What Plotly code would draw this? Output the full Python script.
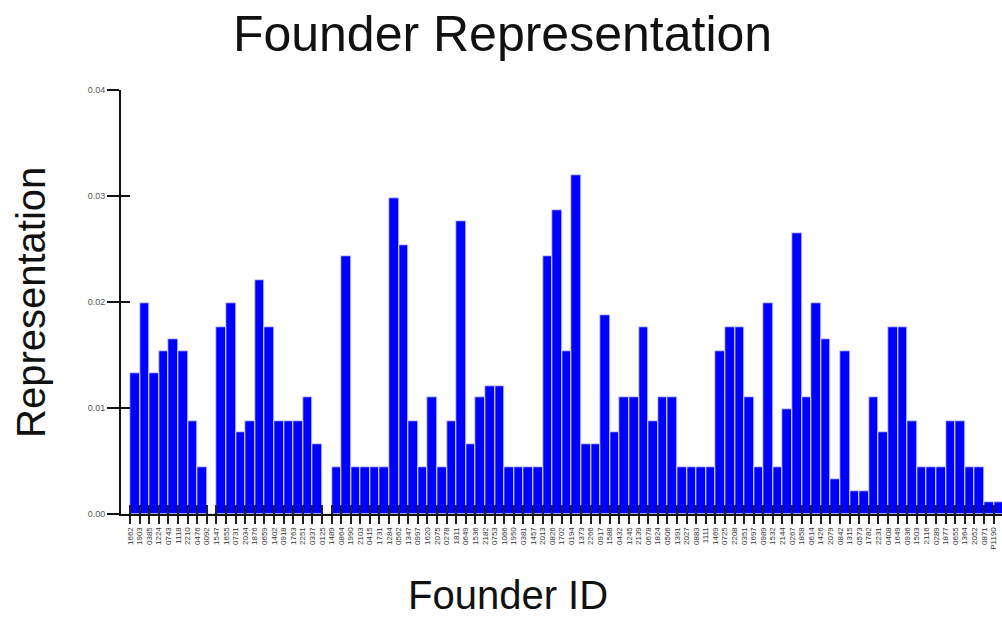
import plotly.graph_objects as go

# ---- data ----
founder_ids = [
    "1662", "1903", "0385", "1224", "0743", "1118", "2210", "0476", "0092", "1547",
    "1655", "0731", "2034", "1876", "0659", "1402", "0918", "1763", "2251", "0337",
    "0125", "1489", "0864", "1990", "2103", "0415", "1731", "1284", "0562", "1347",
    "0997", "1620", "2075", "0278", "1811", "0649", "1536", "2182", "0753", "1066",
    "1950", "0381", "1457", "2013", "0826", "1702", "0194", "1373", "2266", "0917",
    "1588", "0432", "1245", "2139", "0678", "1824", "0506", "1391", "2027", "0883",
    "1111", "1469", "0725", "2208", "0351", "1697", "0989", "1532", "2144", "0267",
    "1858", "0614", "1426", "2079", "0842", "1315", "0573", "1782", "2231", "0408",
    "1649", "0936", "1503", "2116", "0289", "1877", "0655", "1364", "2052", "0871",
    "P1190",
]

representation = [
    0.0133, 0.0199, 0.0133, 0.0154, 0.0165, 0.0154, 0.0088, 0.0044, 0.0000, 0.0176,
    0.0199, 0.0077, 0.0088, 0.0221, 0.0176, 0.0088, 0.0088, 0.0088, 0.0110, 0.0066,
    0.0000, 0.0044, 0.0243, 0.0044, 0.0044, 0.0044, 0.0044, 0.0298, 0.0254, 0.0088,
    0.0044, 0.0110, 0.0044, 0.0088, 0.0276, 0.0066, 0.0110, 0.0121, 0.0121, 0.0044,
    0.0044, 0.0044, 0.0044, 0.0243, 0.0287, 0.0154, 0.0320, 0.0066, 0.0066, 0.0188,
    0.0077, 0.0110, 0.0110, 0.0176, 0.0088, 0.0110, 0.0110, 0.0044, 0.0044, 0.0044,
    0.0044, 0.0154, 0.0176, 0.0176, 0.0110, 0.0044, 0.0199, 0.0044, 0.0099, 0.0265,
    0.0110, 0.0199, 0.0165, 0.0033, 0.0154, 0.0022, 0.0022, 0.0110, 0.0077, 0.0176,
    0.0176, 0.0088, 0.0044, 0.0044, 0.0044, 0.0088, 0.0088, 0.0044, 0.0044, 0.0011,
    0.0011,
]

y_ticks = [0.0, 0.01, 0.02, 0.03, 0.04]
y_tick_text = ["0.00", "0.01", "0.02", "0.03", "0.04"]

positions = list(range(len(founder_ids)))

FONT = "Liberation Sans, Arial, sans-serif"

fig = go.Figure()
fig.add_trace(go.Bar(
    x=positions, y=representation, offset=0, width=1,
    marker=dict(color="#0000ff", line=dict(color="#c8c8ff", width=0.5)),
    hoverinfo="x+y", showlegend=False,
))
# invisible companion trace to carry the inner half of the crossing ticks
fig.add_trace(go.Bar(
    x=positions, y=representation, offset=0, width=1,
    xaxis="x2", yaxis="y2", marker=dict(color="rgba(0,0,0,0)"),
    hoverinfo="skip", showlegend=False,
))

x_range = [-0.94, 90.88]

fig.update_layout(
    width=1002, height=619,
    paper_bgcolor="white", plot_bgcolor="white",
    margin=dict(l=121, r=0, t=90, b=105, autoexpand=False),
    bargap=0,
    barmode="overlay",
    font=dict(family=FONT, color="#111111"),
    title=dict(text="Founder Representation", x=0.5015, xref="container", xanchor="center",
               y=1 - 33 / 619, yref="container", yanchor="middle",
               font=dict(size=50, family=FONT, color="#111111")),
    xaxis=dict(
        range=x_range, showgrid=False, zeroline=False,
        showline=True, linecolor="#111111", linewidth=2,
        tickmode="array", tickvals=positions, ticktext=founder_ids,
        ticks="outside", ticklen=8, tickwidth=2, tickcolor="#222222",
        tickangle=-90, tickfont=dict(size=8, color="#333333", family=FONT),
    ),
    yaxis=dict(
        range=[0, 0.04], showgrid=False, zeroline=False,
        showline=True, linecolor="#111111", linewidth=2,
        tickmode="array", tickvals=y_ticks, ticktext=y_tick_text,
        ticks="outside", ticklen=12, tickwidth=2, tickcolor="#111111",
        tickfont=dict(size=9, color="#555555", family=FONT),
    ),
    xaxis2=dict(
        overlaying="x", anchor="y2", side="bottom", range=x_range,
        showgrid=False, zeroline=False, showline=False, showticklabels=False,
        tickmode="array", tickvals=positions,
        ticks="inside", ticklen=9, tickwidth=2, tickcolor="#222222",
    ),
    yaxis2=dict(
        overlaying="y", anchor="x2", side="left", range=[0, 0.04],
        showgrid=False, zeroline=False, showline=False, showticklabels=False,
        tickmode="array", tickvals=y_ticks,
        ticks="inside", ticklen=9, tickwidth=2, tickcolor="#111111",
    ),
    annotations=[
        dict(text="Founder ID", xref="paper", yref="paper",
             x=(508 - 121) / 881, y=(514 - 619) / 424,
             xanchor="center", yanchor="bottom", showarrow=False,
             font=dict(size=40, family=FONT, color="#111111")),
        dict(text="Representation", xref="paper", yref="paper",
             x=(31 - 121) / 881, y=(514 - 303) / 424, textangle=-90,
             xanchor="center", yanchor="middle", showarrow=False,
             font=dict(size=40, family=FONT, color="#111111")),
    ],
)

fig.write_html(
    "out.html",
    config={"displayModeBar": False},
    post_script="document.body.style.margin='0';document.body.style.overflow='hidden';",
)
